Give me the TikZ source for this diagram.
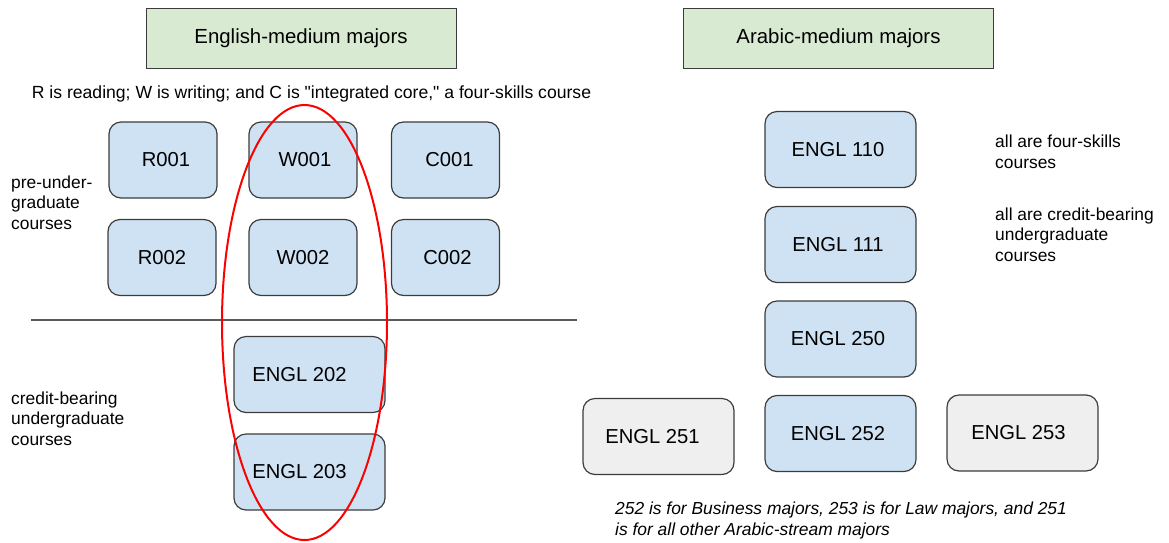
\documentclass[tikz,border=0pt]{standalone}
\usepackage{fontspec}
\setmainfont{Liberation Sans}[Ligatures=TeXOff]
\usetikzlibrary{shapes.geometric}
\definecolor{hdrgreen}{HTML}{D9EAD3}
\definecolor{crsblue}{HTML}{CFE2F3}
\definecolor{crsgray}{HTML}{EFEFEF}
\definecolor{edgegray}{HTML}{3C3C3C}
\definecolor{rulegray}{HTML}{5A5A5A}
\tikzset{
  hdr/.style={draw=edgegray, line width=1pt, fill=hdrgreen, minimum width=310, minimum height=60, inner sep=0, font=\fontsize{20.4}{24}\selectfont},
  crs/.style={draw=edgegray, line width=1.2pt, fill=crsblue, rounded corners=12, minimum height=76, inner sep=0, font=\fontsize{20.2}{24}\selectfont},
  small/.style={crs, minimum width=108},
  wide/.style={crs, minimum width=151},
  grayc/.style={wide, fill=crsgray},
  note/.style={inner sep=0, align=left, anchor=base west, font=\fontsize{17.4}{20.7}\selectfont},
}
\begin{document}
\begin{tikzpicture}[x=1pt,y=-1pt]
\useasboundingbox (0,0) rectangle (1169,542);
% headers
\node[hdr] (eng) at (301,38) {English-medium majors};
\node[hdr] (arb) at (838.5,38) {Arabic-medium majors};
\node[inner sep=0, anchor=base, font=\fontsize{17.6}{20.7}\selectfont] (legend) at (311.5,98) {R is reading; W is writing; and C is "integrated core," a four-skills course};
% pre-undergraduate
\node[small] (r1) at (163,160) {\hspace*{6pt}R001};
\node[small] (w1) at (303,160) {\hspace*{4pt}W001};
\node[small] (c1) at (445.5,160) {\hspace*{8pt}C001};
\node[small] (r2) at (162,257.5) {R002};
\node[small] (w2) at (303,257.5) {W002};
\node[small] (c2) at (445.5,257.5) {\hspace*{4pt}C002};
\node[note] (pre) at (11,229.5) {pre-under-\\graduate\\courses};
% divider
\coordinate (hl) at (31,320);
\coordinate (hr) at (577,320);
\draw[rulegray, line width=1.2pt] (hl) -- (hr);
% credit-bearing
\node[wide] (e202) at (309.5,374.5) {ENGL 202\hspace*{20pt}};
\node[wide] (e203) at (309.5,472) {ENGL 203\hspace*{20pt}};
\node[note] (cb) at (11,445.5) {credit-bearing\\undergraduate\\courses};
% Arabic side
\node[wide] (e110) at (840.5,149.5) {ENGL 110\hspace*{5pt}};
\node[wide] (e111) at (840.5,244.5) {ENGL 111\hspace*{5pt}};
\node[wide] (e250) at (840.5,339) {ENGL 250\hspace*{5pt}};
\node[wide] (e252) at (840.5,433.5) {ENGL 252\hspace*{5pt}};
\node[grayc] (e251) at (658.5,436.5) {ENGL 251\hspace*{12pt}};
\node[grayc] (e253) at (1022.5,433) {ENGL 253\hspace*{8pt}};
\node[note] (n1) at (995,168) {all are four-skills\\courses};
\node[note] (n2) at (995,261.5) {all are credit-bearing\\undergraduate\\courses};
\node[note, font=\fontsize{17.4}{20.7}\selectfont\itshape] (n3) at (615,535) {252 is for Business majors, 253 is for Law majors, and 251\\is for all other Arabic-stream majors};
% red oval
\node[draw=red, line width=2pt, ellipse, minimum width=165, minimum height=435, inner sep=0] (oval) at (304.5,322.5) {};
\end{tikzpicture}
\end{document}
